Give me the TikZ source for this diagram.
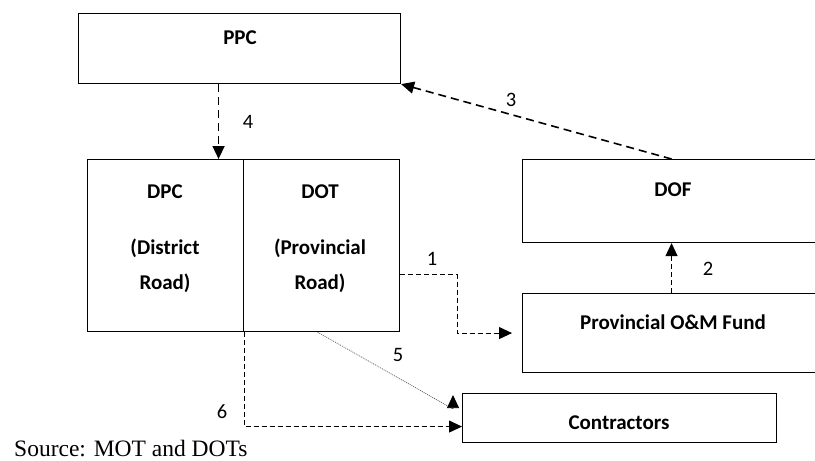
\documentclass[tikz,border=0pt]{standalone}
\usepackage{fontspec}
\setmainfont{Carlito}
\newfontfamily\srcfont{Liberation Serif}
\usetikzlibrary{arrows.meta}
\begin{document}
\begin{tikzpicture}[x=1pt,y=-1pt,
  box/.style={draw, line width=1.1pt, inner sep=0pt, anchor=north west},
  head/.style={font=\fontsize{21}{25}\selectfont\bfseries, inner sep=0pt, anchor=base},
  num/.style={font=\fontsize{20.5}{24}\selectfont, inner sep=0pt, anchor=base},
  tip/.style={-{Triangle[length=13pt,width=12pt,black]}},
  heavy/.style={tip, line width=1.6pt, dash pattern=on 8pt off 5pt},
  light/.style={tip, line width=1pt, dash pattern=on 5pt off 3pt},
  faint/.style={tip, line width=0.7pt, gray!70!black, dash pattern=on 1pt off 1pt}]
\useasboundingbox (0,0) rectangle (815,461);
\clip (0,0) rectangle (815,461);

% boxes
\node[box, minimum width=322pt, minimum height=70pt]  (ppc)  at (78,13)   {};
\node[box, minimum width=156pt, minimum height=172pt] (dpc)  at (87,159)  {};
\node[box, minimum width=156pt, minimum height=172pt] (dot)  at (243,159) {};
\node[box, minimum width=302pt, minimum height=83pt]  (dof)  at (522,159) {};
\node[box, minimum width=302pt, minimum height=79pt]  (fund) at (522,293) {};
\node[box, minimum width=314pt, minimum height=49pt]  (ctr)  at (462,393) {};

% box texts
\node[head] (ppc-t)  at (240,44)  {PPC};
\node[head] (dpc-t1) at (165,198) {DPC};
\node[head] (dpc-t2) at (165,254) {(District};
\node[head] (dpc-t3) at (165,289) {Road)};
\node[head] (dot-t1) at (320,198) {DOT};
\node[head] (dot-t2) at (320,254) {(Provincial};
\node[head] (dot-t3) at (320,289) {Road)};
\node[head] (dof-t)  at (673,196) {DOF};
\node[head] (fund-t) at (673,329) {Provincial O\&M Fund};
\node[head] (ctr-t)  at (619,429) {Contractors};

% flows
\draw[heavy] ([xshift=-21pt]ppc.south) -- ([xshift=-21pt]ppc.south |- dpc.north);
\draw[heavy] ([xshift=-2pt]dof.north) -- (ppc.south east);
\draw[light] ([yshift=-29pt]dot.east) -- ++(57,0) |- ([xshift=-10pt]fund.west);
\draw[light] ([xshift=-2pt]fund.north) -- ([xshift=-2pt]dof.south);
\draw[faint] ([xshift=-4pt]dot.south) -- ([shift={(-9,16)}]ctr.north west) -- ([shift={(-9,2)}]ctr.north west);
\draw[light] (dpc.south east) |- ([yshift=-8.5pt]ctr.west);

% flow numbers
\node[num] (n1) at (432,265) {1};
\node[num] (n2) at (708,275) {2};
\node[num] (n3) at (511,106) {3};
\node[num] (n4) at (248,128) {4};
\node[num] (n5) at (398,361) {5};
\node[num] (n6) at (222,418) {6};

\node[font=\srcfont\fontsize{23.5}{28}\selectfont, anchor=base west, inner sep=0pt] (src) at (14,456) {Source: MOT and DOTs};
\end{tikzpicture}
\end{document}
